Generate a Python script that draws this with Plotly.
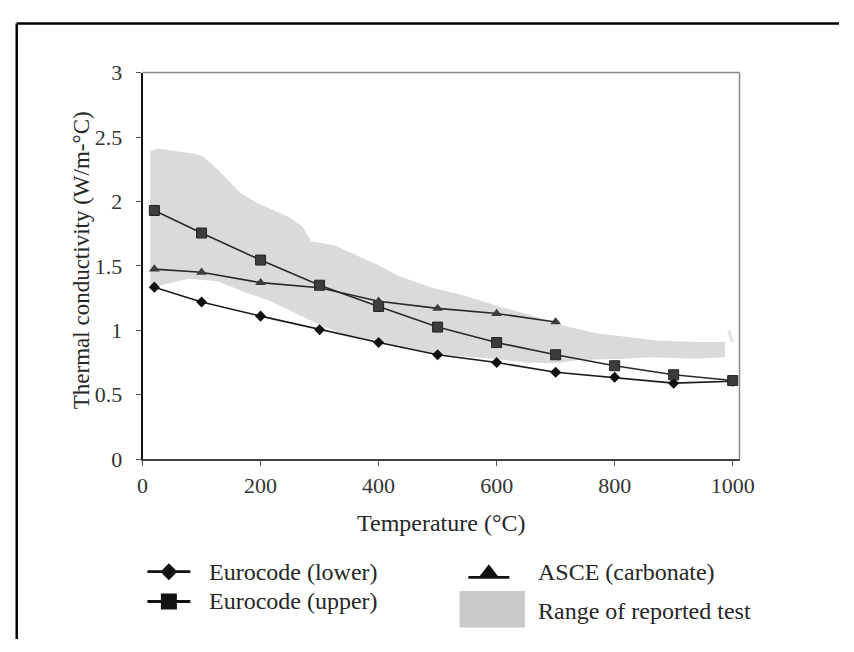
import plotly.graph_objects as go

# ---------------- data ----------------
temp_euro = [20, 100, 200, 300, 400, 500, 600, 700, 800, 900, 1000]
euro_lower = [1.335, 1.22, 1.11, 1.005, 0.905, 0.81, 0.75, 0.675, 0.635, 0.59, 0.605]
euro_upper = [1.93, 1.755, 1.545, 1.35, 1.185, 1.025, 0.905, 0.81, 0.725, 0.655, 0.61]

temp_asce = [20, 100, 200, 300, 400, 500, 600, 700]
asce_carb = [1.475, 1.45, 1.37, 1.33, 1.225, 1.17, 1.13, 1.065]

band_top_t = [13, 25, 88, 102, 127, 165, 193, 248, 270, 286, 325, 397, 435, 491,
              545, 600, 656, 711, 766, 815, 871, 940, 987]
band_top_v = [2.39, 2.41, 2.37, 2.35, 2.25, 2.07, 1.99, 1.88, 1.81, 1.69, 1.66, 1.51,
              1.42, 1.33, 1.27, 1.19, 1.12, 1.04, 0.98, 0.95, 0.92, 0.91, 0.91]
band_bot_t = [987, 940, 860, 815, 739, 700, 651, 595, 532, 500, 430, 397, 342, 292,
              248, 215, 177, 127, 78, 38, 13]
band_bot_v = [0.79, 0.78, 0.79, 0.78, 0.77, 0.745, 0.75, 0.78, 0.80, 0.81, 0.88, 0.91,
              0.96, 1.06, 1.16, 1.23, 1.29, 1.38, 1.40, 1.36, 1.33]
sliver_t = [993, 1000]
sliver_v = [1.0, 0.91]

x_ticks = [0, 200, 400, 600, 800, 1000]
y_ticks = [0, 0.5, 1, 1.5, 2, 2.5, 3]
y_tick_labels = ["0", "0.5", "1", "1.5", "2", "2.5", "3"]

legend_names = ["Eurocode (lower)", "Eurocode (upper)", "ASCE (carbonate)", "Range of reported test"]

# ---------------- layout geometry (pixels) ----------------
W, H = 854, 652
PL, PR, PT, PB = 140, 752, 63, 465
FONT = "Liberation Serif"
BAND = "#dadada"
TXT = "#262626"

def px(x):
    return x / W

def py(y):
    return 1 - y / H

fig = go.Figure()

# band of reported tests
fig.add_trace(go.Scatter(
    x=band_top_t + band_bot_t, y=band_top_v + band_bot_v,
    fill="toself", fillcolor=BAND, line=dict(width=0), mode="lines",
    hoverinfo="skip", showlegend=False))
fig.add_trace(go.Scatter(
    x=sliver_t, y=sliver_v, mode="lines", line=dict(color="#e2e2e2", width=3),
    hoverinfo="skip", showlegend=False))

# series
fig.add_trace(go.Scatter(
    x=temp_euro, y=euro_lower, mode="lines+markers", name=legend_names[0],
    line=dict(color="#1a1a1a", width=1.6),
    marker=dict(symbol="diamond", size=8.5, color="#111111"), showlegend=False))
fig.add_trace(go.Scatter(
    x=temp_euro, y=euro_upper, mode="lines+markers", name=legend_names[1],
    line=dict(color="#2a2a2a", width=1.6),
    marker=dict(symbol="square", size=10, color="#3c3c3c",
                line=dict(color="#222222", width=1)), showlegend=False))
fig.add_trace(go.Scatter(
    x=temp_asce, y=asce_carb, mode="lines+markers", name=legend_names[2],
    line=dict(color="#2a2a2a", width=1.6),
    marker=dict(symbol="triangle-up", size=9.5, color="#3c3c3c"), showlegend=False))

# ---------------- custom legend on a pixel overlay axis ----------------
leg_lines = [((145, 189), 582), ((145, 189), 613), ((474, 516), 588)]
leg_marks = [(167, 582, "diamond", 13), (167, 613, "square", 16), (495, 583, "triangle-up", 17)]
for (xs, yy) in leg_lines:
    fig.add_trace(go.Scatter(
        x=[xs[0], xs[1]], y=[yy, yy], mode="lines", line=dict(color="#111111", width=2.8),
        xaxis="x2", yaxis="y2", hoverinfo="skip", showlegend=False))
for (mx, my, sym, sz) in leg_marks:
    fig.add_trace(go.Scatter(
        x=[mx], y=[my], mode="markers",
        marker=dict(symbol=sym, size=sz, color="#111111"),
        xaxis="x2", yaxis="y2", hoverinfo="skip", showlegend=False))

shapes = [
    # figure frame
    dict(type="line", xref="paper", yref="paper", x0=px(11), x1=1.0, y0=py(12), y1=py(12),
         line=dict(color="black", width=2.5)),
    dict(type="line", xref="paper", yref="paper", x0=px(11), x1=px(11), y0=py(12), y1=0,
         line=dict(color="black", width=2.5)),
    # plot box top and right (gray)
    dict(type="line", xref="paper", yref="paper", x0=px(PL), x1=px(PR), y0=py(PT), y1=py(PT),
         line=dict(color="#8a8a8a", width=1.5)),
    dict(type="line", xref="paper", yref="paper", x0=px(PR), x1=px(PR), y0=py(PT), y1=py(PB),
         line=dict(color="#8a8a8a", width=1.5)),
    # legend swatch for band
    dict(type="rect", xref="paper", yref="paper", x0=px(465), x1=px(532), y0=py(602), y1=py(640),
         fillcolor="#c9c9c9", line=dict(width=0)),
]

annotations = [
    dict(text="Temperature (°C)", xref="paper", yref="paper", x=px((PL + PR) / 2), y=py(531),
         showarrow=False, font=dict(family=FONT, size=24, color=TXT),
         xanchor="center", yanchor="middle"),
    dict(text="Thermal conductivity (W/m-°C)", xref="paper", yref="paper", x=px(77), y=py(258),
         showarrow=False, textangle=-90, font=dict(family=FONT, size=23, color=TXT),
         xanchor="center", yanchor="middle"),
]
leg_text_pos = [(206, 582), (206, 613), (543, 582), (543, 623)]
for name, (lx, ly) in zip(legend_names, leg_text_pos):
    annotations.append(dict(text=name, xref="paper", yref="paper", x=px(lx), y=py(ly),
                            showarrow=False, font=dict(family=FONT, size=24, color=TXT),
                            xanchor="left", yanchor="middle"))

fig.update_layout(
    width=W, height=H, margin=dict(l=0, r=0, t=0, b=0),
    paper_bgcolor="white", plot_bgcolor="rgba(0,0,0,0)",
    showlegend=False, hovermode=False,
    xaxis=dict(domain=[px(PL), px(PR)], range=[0, 1000 * (PR - PL) / 605.0],
               tickvals=x_ticks, ticks="outside", ticklen=5, tickcolor="#555555",
               ticklabelstandoff=1,
               showline=True, linecolor="#444444", linewidth=1.5,
               showgrid=False, zeroline=False,
               tickfont=dict(family=FONT, size=22, color="#333333")),
    yaxis=dict(domain=[py(PB), py(PT)], range=[0, 3],
               tickvals=y_ticks, ticktext=y_tick_labels, ticks="outside", ticklen=5,
               tickcolor="#555555", ticklabelstandoff=9,
               showline=True, linecolor="#111111", linewidth=2,
               showgrid=False, zeroline=False,
               tickfont=dict(family=FONT, size=22, color="#333333")),
    xaxis2=dict(domain=[0, 1], range=[0, W], visible=False, anchor="y2", fixedrange=True),
    yaxis2=dict(domain=[0, 1], range=[H, 0], visible=False, anchor="x2", fixedrange=True),
    shapes=shapes, annotations=annotations,
)

fig.write_html("out.html")
